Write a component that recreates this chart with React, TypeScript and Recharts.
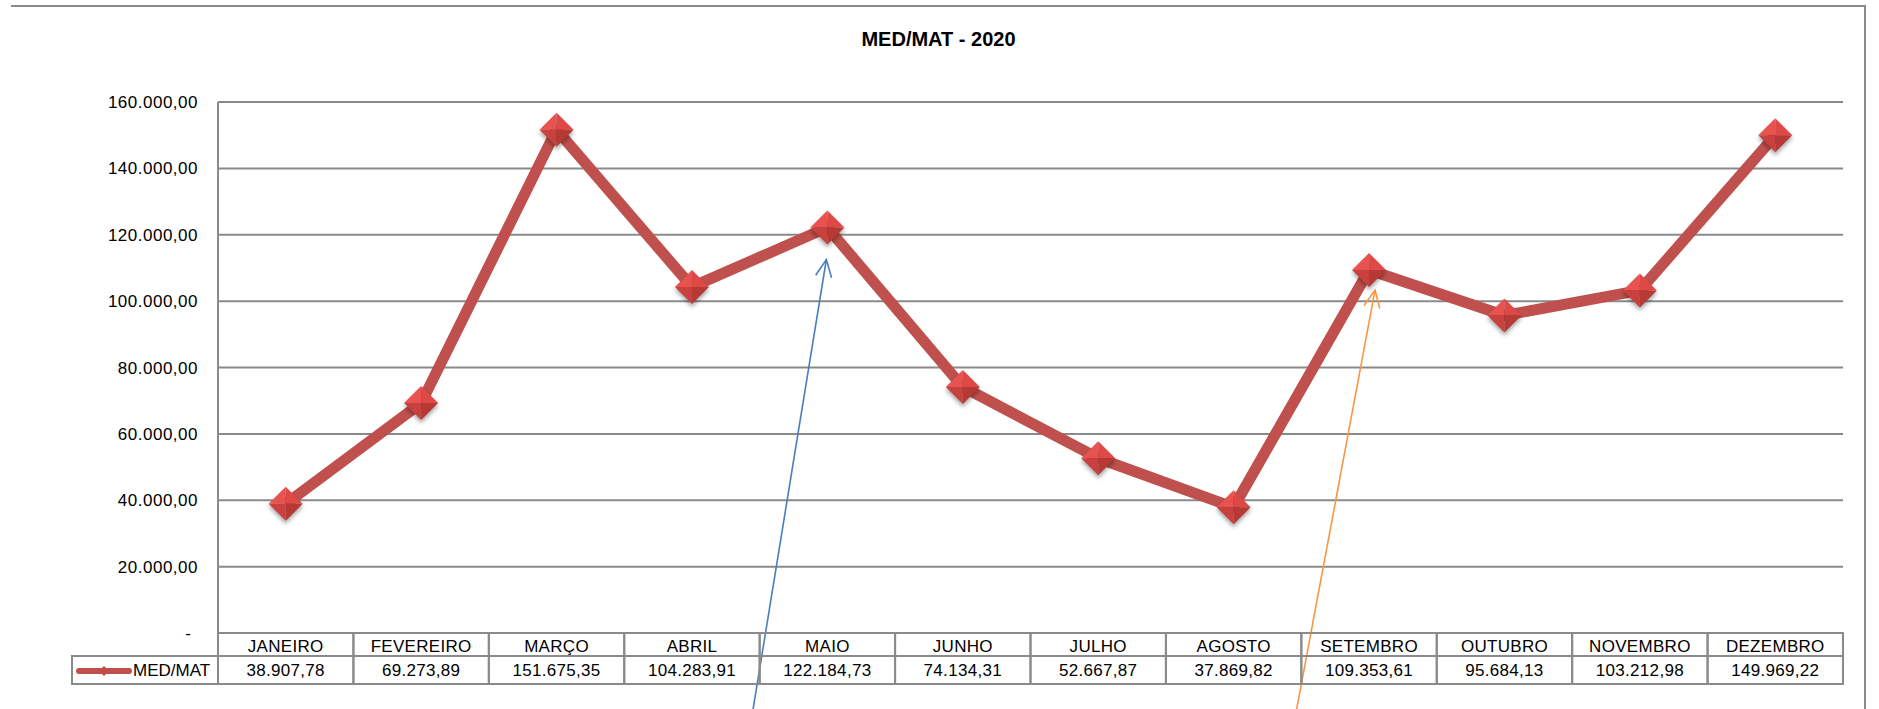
import React from 'react';
import { LineChart, Line, XAxis, YAxis, CartesianGrid, ReferenceDot } from 'recharts';

const chartTitle = 'MED/MAT - 2020';
const seriesName = 'MED/MAT';
const months = ['JANEIRO', 'FEVEREIRO', 'MARÇO', 'ABRIL', 'MAIO', 'JUNHO', 'JULHO', 'AGOSTO', 'SETEMBRO', 'OUTUBRO', 'NOVEMBRO', 'DEZEMBRO'];
const medMat = [38907.78, 69273.89, 151675.35, 104283.91, 122184.73, 74134.31, 52667.87, 37869.82, 109353.61, 95684.13, 103212.98, 149969.22];
const yTicks = [0, 20000, 40000, 60000, 80000, 100000, 120000, 140000, 160000];
// the two hand-drawn arrows point at these months
const blueArrowMonth = 'MAIO';
const orangeArrowMonth = 'SETEMBRO';

const data = months.map((m, i) => ({ month: m, value: medMat[i] }));

// layout
const W = 1879;
const H = 709;
const PLOT_L = 218;
const PLOT_R = 1843;
const PLOT_T = 102;
const PLOT_B = 633;
const HEAD_H = 23;
const ROW_H = 28;
const LEG_L = 72;
const Y_AXIS_W = 150;
const COL_W = (PLOT_R - PLOT_L) / months.length;

const GRID = '#8a8a8a';
const RED = '#C0504D';
const FONT = '"Liberation Sans", Arial, sans-serif';

const fmt = (v: number) => {
  const [i, d] = v.toFixed(2).split('.');
  return i.replace(/\B(?=(\d{3})+(?!\d))/g, '.') + ',' + d;
};

const YTick = (props: any) => {
  const { x, y, payload } = props;
  if (payload.value === 0) {
    return (
      <text x={x - 30} y={y} dy="0.36em" textAnchor="middle" fontSize={17} fontFamily={FONT} fill="#000">-</text>
    );
  }
  return (
    <text x={x - 20} y={y} dy="0.36em" textAnchor="end" fontSize={17} fontFamily={FONT} letterSpacing={0.5} fill="#000">
      {fmt(payload.value)}
    </text>
  );
};

// each x tick draws its column of the data table
const TableTick = (props: any) => {
  const { x, y, payload } = props;
  const i = months.indexOf(payload.value);
  const left = x - COL_W / 2;
  return (
    <g>
      <rect x={left} y={y} width={COL_W} height={HEAD_H} fill="none" stroke={GRID} strokeWidth={2} />
      <rect x={left} y={y + HEAD_H} width={COL_W} height={ROW_H} fill="none" stroke={GRID} strokeWidth={2} />
      <text x={x} y={y + HEAD_H / 2 + 1} dy="0.36em" textAnchor="middle" fontSize={17} fontFamily={FONT} letterSpacing={0.3} fill="#000">
        {payload.value}
      </text>
      <text x={x} y={y + HEAD_H + ROW_H / 2} dy="0.36em" textAnchor="middle" fontSize={17} fontFamily={FONT} letterSpacing={0.3} fill="#000">
        {fmt(medMat[i])}
      </text>
      {i === 0 && (
        <g>
          <rect x={LEG_L} y={y + HEAD_H} width={left - LEG_L} height={ROW_H} fill="none" stroke={GRID} strokeWidth={2} />
          <line x1={LEG_L + 7} x2={LEG_L + 57} y1={y + HEAD_H + ROW_H / 2 + 1} y2={y + HEAD_H + ROW_H / 2 + 1} stroke={RED} strokeWidth={6} strokeLinecap="round" />
          <path
            d={`M${LEG_L + 32 - 5},${y + HEAD_H + ROW_H / 2 + 1} l5,-5 l5,5 l-5,5 z`}
            fill="#C94846"
          />
          <text x={LEG_L + 61} y={y + HEAD_H + ROW_H / 2} dy="0.36em" fontSize={17} fontFamily={FONT} fill="#000">
            {seriesName}
          </text>
        </g>
      )}
    </g>
  );
};

const Diamond = (props: any) => {
  const { cx, cy, index } = props;
  const s = 17;
  return (
    <g key={`d-${index}`}>
      {index === 0 && (
        <defs>
          <filter id="dshadow" x="-50%" y="-50%" width="200%" height="200%">
            <feGaussianBlur stdDeviation="2" />
          </filter>
        </defs>
      )}
      <path d={`M${cx - s},${cy + 3} L${cx},${cy - s + 3} L${cx + s},${cy + 3} L${cx},${cy + s + 3} Z`} fill="rgba(0,0,0,0.35)" filter="url(#dshadow)" />
      <path d={`M${cx - s},${cy} L${cx},${cy - s} L${cx},${cy} Z`} fill="#E8524F" />
      <path d={`M${cx},${cy - s} L${cx + s},${cy} L${cx},${cy} Z`} fill="#DE4946" />
      <path d={`M${cx - s},${cy} L${cx},${cy + s} L${cx},${cy} Z`} fill="#C9413E" />
      <path d={`M${cx + s},${cy} L${cx},${cy + s} L${cx},${cy} Z`} fill="#B63936" />
    </g>
  );
};

const makeArrow = (color: string, tipDx: number, tipDy: number, slope: number) => (props: any) => {
  const { cx, cy } = props;
  const tx = cx + tipDx;
  const ty = cy + tipDy;
  const len = 600;
  const n = Math.hypot(slope, 1);
  const ux = slope / n;
  const uy = 1 / n;
  const a = (25 * Math.PI) / 180;
  const L = 19;
  const r1x = ux * Math.cos(a) - uy * Math.sin(a);
  const r1y = ux * Math.sin(a) + uy * Math.cos(a);
  const r2x = ux * Math.cos(-a) - uy * Math.sin(-a);
  const r2y = ux * Math.sin(-a) + uy * Math.cos(-a);
  return (
    <g>
      <line x1={tx} y1={ty} x2={tx + ux * len} y2={ty + uy * len} stroke={color} strokeWidth={1.6} />
      <polyline
        points={`${tx + r1x * L},${ty + r1y * L} ${tx},${ty} ${tx + r2x * L},${ty + r2y * L}`}
        fill="none"
        stroke={color}
        strokeWidth={1.6}
      />
    </g>
  );
};

const BlueArrow = makeArrow('#4A7EBB', -1, 32, -0.163);
const OrangeArrow = makeArrow('#F79646', 6, 20, -0.187);

export default function App() {
  return (
    <div style={{ position: 'relative', width: W, height: H, overflow: 'hidden', background: '#fff' }}>
      <style>{'body{margin:0}'}</style>
      <div
        style={{
          position: 'absolute',
          left: 11,
          top: 5,
          width: 1855,
          height: 760,
          borderTop: `2px solid ${GRID}`,
          borderRight: `2px solid ${GRID}`,
          boxSizing: 'border-box',
        }}
      />
      <div
        style={{
          position: 'absolute',
          left: 0,
          top: 27,
          width: 1877,
          textAlign: 'center',
          fontFamily: FONT,
          fontWeight: 'bold',
          fontSize: 20,
          lineHeight: '24px',
          color: '#000',
        }}
      >
        {chartTitle}
      </div>
      <LineChart
        width={W}
        height={H}
        data={data}
        margin={{ top: PLOT_T, right: W - PLOT_R, left: PLOT_L - Y_AXIS_W, bottom: H - PLOT_B - HEAD_H - ROW_H }}
        style={{ position: 'absolute', left: 0, top: 0 }}
      >
        <CartesianGrid vertical={false} stroke={GRID} strokeWidth={2} />
        <XAxis
          dataKey="month"
          height={HEAD_H + ROW_H}
          padding={{ left: COL_W / 2, right: COL_W / 2 }}
          interval={0}
          tickLine={false}
          tickSize={0}
          tickMargin={0}
          axisLine={{ stroke: GRID, strokeWidth: 2 }}
          tick={<TableTick />}
        />
        <YAxis
          width={Y_AXIS_W}
          domain={[0, 160000]}
          ticks={yTicks}
          interval={0}
          tickLine={false}
          tickSize={0}
          tickMargin={0}
          axisLine={{ stroke: GRID, strokeWidth: 2 }}
          tick={<YTick />}
        />
        <Line
          type="linear"
          dataKey="value"
          name={seriesName}
          stroke={RED}
          strokeWidth={11}
          strokeLinejoin="round"
          dot={(p: any) => <Diamond key={`dot-${p.index}`} {...p} />}
          activeDot={false}
          isAnimationActive={false}
        />
        <ReferenceDot x={blueArrowMonth} y={medMat[months.indexOf(blueArrowMonth)]} r={0} ifOverflow="visible" shape={BlueArrow} />
        <ReferenceDot x={orangeArrowMonth} y={medMat[months.indexOf(orangeArrowMonth)]} r={0} ifOverflow="visible" shape={OrangeArrow} />
      </LineChart>
    </div>
  );
}
